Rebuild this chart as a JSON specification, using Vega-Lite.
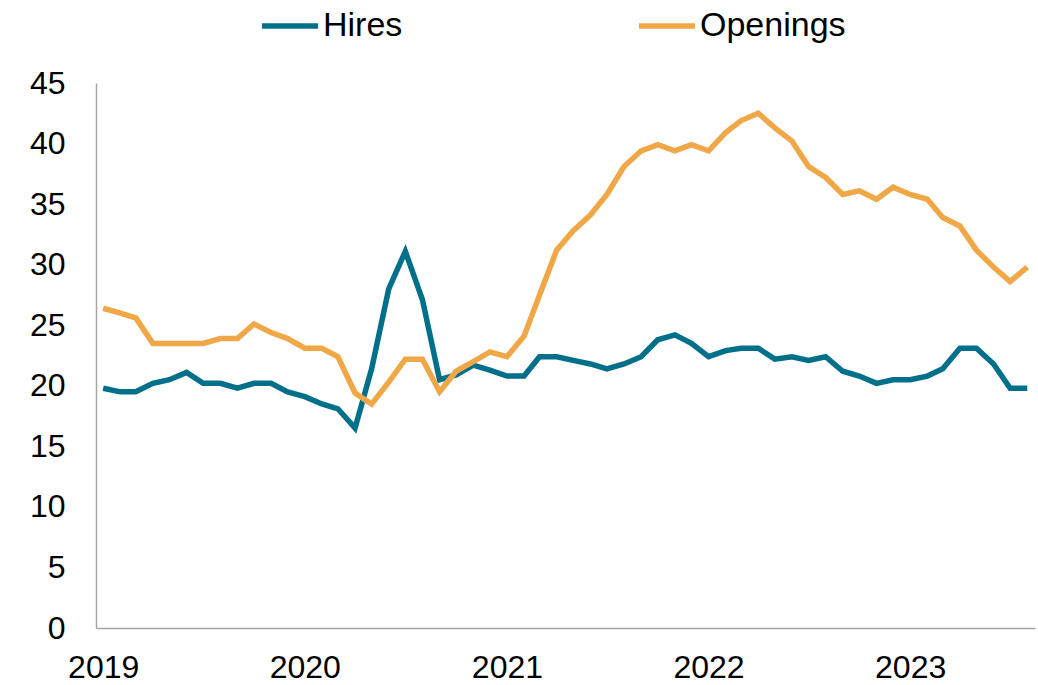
{
  "$schema": "https://vega.github.io/schema/vega-lite/v6.json",
  "autosize": "none",
  "width": 939,
  "height": 545,
  "padding": {"left": 96, "top": 83, "right": 3, "bottom": 57},
  "background": "white",
  "config": {
    "view": {"stroke": null},
    "font": "Liberation Sans"
  },
  "data": {
    "values": [
      {"date": "2019-01-01", "series": "Hires", "value": 19.8},
      {"date": "2019-02-01", "series": "Hires", "value": 19.5},
      {"date": "2019-03-01", "series": "Hires", "value": 19.5},
      {"date": "2019-04-01", "series": "Hires", "value": 20.2},
      {"date": "2019-05-01", "series": "Hires", "value": 20.5},
      {"date": "2019-06-01", "series": "Hires", "value": 21.1},
      {"date": "2019-07-01", "series": "Hires", "value": 20.2},
      {"date": "2019-08-01", "series": "Hires", "value": 20.2},
      {"date": "2019-09-01", "series": "Hires", "value": 19.8},
      {"date": "2019-10-01", "series": "Hires", "value": 20.2},
      {"date": "2019-11-01", "series": "Hires", "value": 20.2},
      {"date": "2019-12-01", "series": "Hires", "value": 19.5},
      {"date": "2020-01-01", "series": "Hires", "value": 19.1},
      {"date": "2020-02-01", "series": "Hires", "value": 18.5},
      {"date": "2020-03-01", "series": "Hires", "value": 18.1},
      {"date": "2020-04-01", "series": "Hires", "value": 16.5},
      {"date": "2020-05-01", "series": "Hires", "value": 21.4},
      {"date": "2020-06-01", "series": "Hires", "value": 28.0},
      {"date": "2020-07-01", "series": "Hires", "value": 31.1},
      {"date": "2020-08-01", "series": "Hires", "value": 27.1},
      {"date": "2020-09-01", "series": "Hires", "value": 20.5},
      {"date": "2020-10-01", "series": "Hires", "value": 20.9},
      {"date": "2020-11-01", "series": "Hires", "value": 21.7},
      {"date": "2020-12-01", "series": "Hires", "value": 21.3},
      {"date": "2021-01-01", "series": "Hires", "value": 20.8},
      {"date": "2021-02-01", "series": "Hires", "value": 20.8},
      {"date": "2021-03-01", "series": "Hires", "value": 22.4},
      {"date": "2021-04-01", "series": "Hires", "value": 22.4},
      {"date": "2021-05-01", "series": "Hires", "value": 22.1},
      {"date": "2021-06-01", "series": "Hires", "value": 21.8},
      {"date": "2021-07-01", "series": "Hires", "value": 21.4},
      {"date": "2021-08-01", "series": "Hires", "value": 21.8},
      {"date": "2021-09-01", "series": "Hires", "value": 22.4},
      {"date": "2021-10-01", "series": "Hires", "value": 23.8},
      {"date": "2021-11-01", "series": "Hires", "value": 24.2},
      {"date": "2021-12-01", "series": "Hires", "value": 23.5},
      {"date": "2022-01-01", "series": "Hires", "value": 22.4},
      {"date": "2022-02-01", "series": "Hires", "value": 22.9},
      {"date": "2022-03-01", "series": "Hires", "value": 23.1},
      {"date": "2022-04-01", "series": "Hires", "value": 23.1},
      {"date": "2022-05-01", "series": "Hires", "value": 22.2},
      {"date": "2022-06-01", "series": "Hires", "value": 22.4},
      {"date": "2022-07-01", "series": "Hires", "value": 22.1},
      {"date": "2022-08-01", "series": "Hires", "value": 22.4},
      {"date": "2022-09-01", "series": "Hires", "value": 21.2},
      {"date": "2022-10-01", "series": "Hires", "value": 20.8},
      {"date": "2022-11-01", "series": "Hires", "value": 20.2},
      {"date": "2022-12-01", "series": "Hires", "value": 20.5},
      {"date": "2023-01-01", "series": "Hires", "value": 20.5},
      {"date": "2023-02-01", "series": "Hires", "value": 20.8},
      {"date": "2023-03-01", "series": "Hires", "value": 21.4},
      {"date": "2023-04-01", "series": "Hires", "value": 23.1},
      {"date": "2023-05-01", "series": "Hires", "value": 23.1},
      {"date": "2023-06-01", "series": "Hires", "value": 21.8},
      {"date": "2023-07-01", "series": "Hires", "value": 19.8},
      {"date": "2023-08-01", "series": "Hires", "value": 19.8},
      {"date": "2019-01-01", "series": "Openings", "value": 26.4},
      {"date": "2019-02-01", "series": "Openings", "value": 26.0},
      {"date": "2019-03-01", "series": "Openings", "value": 25.6},
      {"date": "2019-04-01", "series": "Openings", "value": 23.5},
      {"date": "2019-05-01", "series": "Openings", "value": 23.5},
      {"date": "2019-06-01", "series": "Openings", "value": 23.5},
      {"date": "2019-07-01", "series": "Openings", "value": 23.5},
      {"date": "2019-08-01", "series": "Openings", "value": 23.9},
      {"date": "2019-09-01", "series": "Openings", "value": 23.9},
      {"date": "2019-10-01", "series": "Openings", "value": 25.1},
      {"date": "2019-11-01", "series": "Openings", "value": 24.4},
      {"date": "2019-12-01", "series": "Openings", "value": 23.9},
      {"date": "2020-01-01", "series": "Openings", "value": 23.1},
      {"date": "2020-02-01", "series": "Openings", "value": 23.1},
      {"date": "2020-03-01", "series": "Openings", "value": 22.4},
      {"date": "2020-04-01", "series": "Openings", "value": 19.4},
      {"date": "2020-05-01", "series": "Openings", "value": 18.5},
      {"date": "2020-06-01", "series": "Openings", "value": 20.3},
      {"date": "2020-07-01", "series": "Openings", "value": 22.2},
      {"date": "2020-08-01", "series": "Openings", "value": 22.2},
      {"date": "2020-09-01", "series": "Openings", "value": 19.5},
      {"date": "2020-10-01", "series": "Openings", "value": 21.2},
      {"date": "2020-11-01", "series": "Openings", "value": 22.0},
      {"date": "2020-12-01", "series": "Openings", "value": 22.8},
      {"date": "2021-01-01", "series": "Openings", "value": 22.4},
      {"date": "2021-02-01", "series": "Openings", "value": 24.1},
      {"date": "2021-03-01", "series": "Openings", "value": 27.5},
      {"date": "2021-04-01", "series": "Openings", "value": 31.2},
      {"date": "2021-05-01", "series": "Openings", "value": 32.8},
      {"date": "2021-06-01", "series": "Openings", "value": 34.1},
      {"date": "2021-07-01", "series": "Openings", "value": 35.8},
      {"date": "2021-08-01", "series": "Openings", "value": 38.1},
      {"date": "2021-09-01", "series": "Openings", "value": 39.4},
      {"date": "2021-10-01", "series": "Openings", "value": 39.9},
      {"date": "2021-11-01", "series": "Openings", "value": 39.4},
      {"date": "2021-12-01", "series": "Openings", "value": 39.9},
      {"date": "2022-01-01", "series": "Openings", "value": 39.4},
      {"date": "2022-02-01", "series": "Openings", "value": 40.9},
      {"date": "2022-03-01", "series": "Openings", "value": 41.9},
      {"date": "2022-04-01", "series": "Openings", "value": 42.5},
      {"date": "2022-05-01", "series": "Openings", "value": 41.3},
      {"date": "2022-06-01", "series": "Openings", "value": 40.2},
      {"date": "2022-07-01", "series": "Openings", "value": 38.1},
      {"date": "2022-08-01", "series": "Openings", "value": 37.2},
      {"date": "2022-09-01", "series": "Openings", "value": 35.8},
      {"date": "2022-10-01", "series": "Openings", "value": 36.1},
      {"date": "2022-11-01", "series": "Openings", "value": 35.4},
      {"date": "2022-12-01", "series": "Openings", "value": 36.4},
      {"date": "2023-01-01", "series": "Openings", "value": 35.8},
      {"date": "2023-02-01", "series": "Openings", "value": 35.4},
      {"date": "2023-03-01", "series": "Openings", "value": 33.9},
      {"date": "2023-04-01", "series": "Openings", "value": 33.2},
      {"date": "2023-05-01", "series": "Openings", "value": 31.2},
      {"date": "2023-06-01", "series": "Openings", "value": 29.8},
      {"date": "2023-07-01", "series": "Openings", "value": 28.6},
      {"date": "2023-08-01", "series": "Openings", "value": 29.8}
    ]
  },
  "mark": {"type": "line", "strokeWidth": 5.5, "strokeJoin": "miter", "strokeCap": "butt"},
  "encoding": {
    "x": {
      "field": "date",
      "type": "temporal",
      "scale": {
        "type": "utc",
        "domain": [
          {"year": 2018, "month": 12, "date": 19, "utc": true},
          {"year": 2023, "month": 8, "date": 15, "utc": true}
        ]
      },
      "axis": {
        "title": null,
        "format": "%Y",
        "tickCount": {"interval": "year", "step": 1},
        "ticks": false,
        "grid": false,
        "domainColor": "#A6A6A6",
        "domainWidth": 1.5,
        "labelFontSize": 32,
        "labelColor": "#000000",
        "labelPadding": 24,
        "labelFlush": false,
        "labelOverlap": false
      }
    },
    "y": {
      "field": "value",
      "type": "quantitative",
      "scale": {"domain": [0, 45], "nice": false, "zero": true},
      "axis": {
        "title": null,
        "values": [0, 5, 10, 15, 20, 25, 30, 35, 40, 45],
        "ticks": false,
        "grid": false,
        "domainColor": "#A6A6A6",
        "domainWidth": 1.5,
        "labelFontSize": 32,
        "labelColor": "#000000",
        "labelPadding": 31
      }
    },
    "color": {
      "field": "series",
      "type": "nominal",
      "scale": {"domain": ["Hires", "Openings"], "range": ["#00708A", "#F0A747"]},
      "legend": {
        "title": null,
        "orient": "none",
        "direction": "horizontal",
        "legendX": 163,
        "legendY": -88,
        "symbolType": "stroke",
        "symbolSize": 3136,
        "symbolStrokeWidth": 5.5,
        "labelFontSize": 34,
        "labelColor": "#000000",
        "labelOffset": 2,
        "columnPadding": 225
      }
    }
  }
}
